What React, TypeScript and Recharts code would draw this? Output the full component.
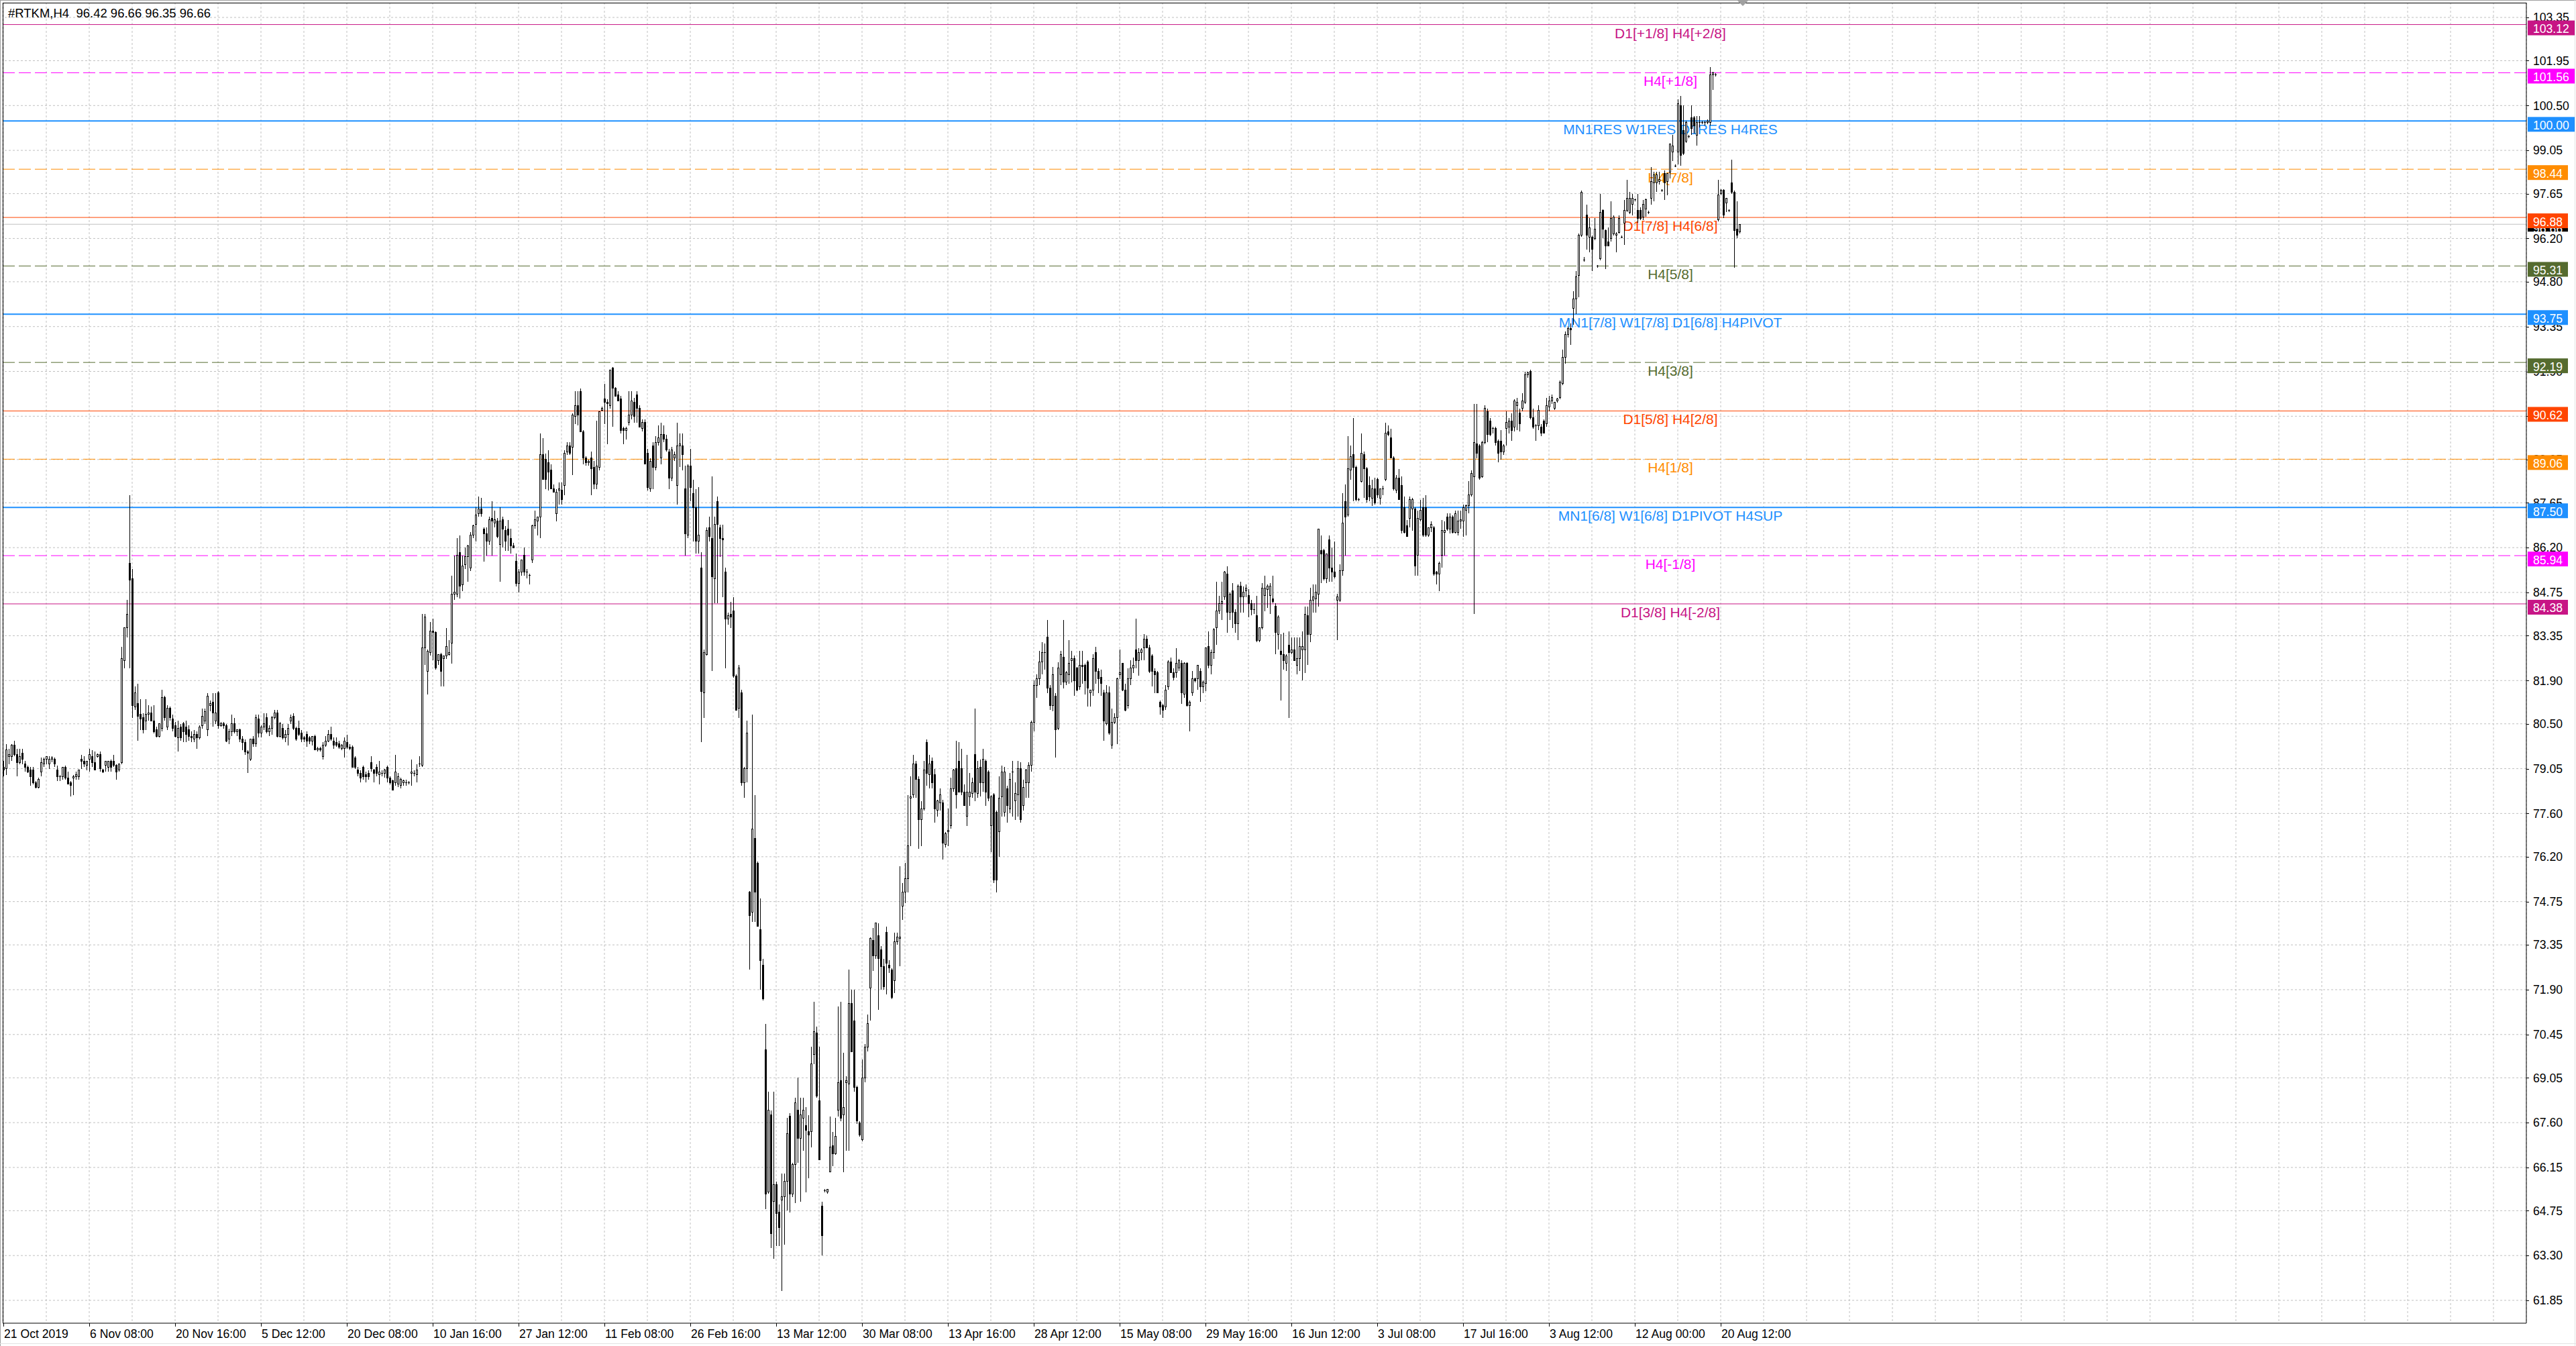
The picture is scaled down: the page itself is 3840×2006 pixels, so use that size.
import React from 'react';
import { ComposedChart, Bar, XAxis, YAxis, CartesianGrid, ReferenceLine, ReferenceDot } from 'recharts';

// ---------------- data ----------------
const SYMBOL_TITLE = '#RTKM,H4  96.42 96.66 96.35 96.66';
const CURRENT_PRICE = 96.66;

// time-axis labels, one every 32 H4 bars starting at bar 0
const TIME_LABELS = ['21 Oct 2019', '6 Nov 08:00', '20 Nov 16:00', '5 Dec 12:00', '20 Dec 08:00', '10 Jan 16:00', '27 Jan 12:00', '11 Feb 08:00', '26 Feb 16:00', '13 Mar 12:00', '30 Mar 08:00', '13 Apr 16:00', '28 Apr 12:00', '15 May 08:00', '29 May 16:00', '16 Jun 12:00', '3 Jul 08:00', '17 Jul 16:00', '3 Aug 12:00', '12 Aug 00:00', '20 Aug 12:00'];
const BARS_PER_LABEL = 32;
const BARS_PER_GRID = 16;

const PRICE_TICKS = [103.35, 101.95, 100.5, 99.05, 97.65, 96.2, 94.8, 93.35, 91.9, 90.45, 89.05, 87.65, 86.2, 84.75, 83.35, 81.9, 80.5, 79.05, 77.6, 76.2, 74.75, 73.35, 71.9, 70.45, 69.05, 67.6, 66.15, 64.75, 63.3, 61.85];

const LEVEL_PRICES = [103.12, 101.56, 100.0, 98.44, 96.88, 95.31, 93.75, 92.19, 90.62, 89.06, 87.5, 85.94, 84.38];
const LEVEL_NAMES = ['D1[+1/8] H4[+2/8]', 'H4[+1/8]', 'MN1RES W1RES D1RES H4RES', 'H4[7/8]', 'D1[7/8] H4[6/8]', 'H4[5/8]', 'MN1[7/8] W1[7/8] D1[6/8] H4PIVOT', 'H4[3/8]', 'D1[5/8] H4[2/8]', 'H4[1/8]', 'MN1[6/8] W1[6/8] D1PIVOT H4SUP', 'H4[-1/8]', 'D1[3/8] H4[-2/8]'];
const LEVEL_TEXT_BAR = 621.25;

// OHLC per H4 bar: [open, high, low, close]
const barsFrom21Oct = [
  [79.1,79.3,78.8,79.0],[79.05,79.85,78.85,79.65],[79.45,79.7,79.2,79.5],[79.45,79.85,79.3,79.8],[79.8,79.95,79.45,79.5],[79.5,79.7,78.8,79.25],[79.25,79.7,79.2,79.45],[79.55,79.7,79.2,79.35],
  [79.2,79.3,78.95,79.1],[79.1,79.15,78.9,78.95],[79.0,79.1,78.5,78.8],[79.0,79.1,78.55,78.6],[78.6,78.65,78.4,78.45],[78.45,78.75,78.4,78.7],[78.95,79.4,78.8,79.25],[79.2,79.4,79.1,79.35],
  [79.35,79.45,79.2,79.45],[79.2,79.45,79.05,79.35],[79.35,79.45,79.25,79.4],[79.35,79.4,79.1,79.2],[79.0,79.15,78.65,78.8],[78.8,78.85,78.65,78.8],[78.8,79.1,78.7,79.1],[79.1,79.15,78.7,78.75],
  [78.75,78.95,78.55,78.55],[78.6,78.65,78.15,78.5],[78.75,78.85,78.2,78.8],[78.8,78.95,78.7,78.85],[78.8,79.0,78.7,79.0],[79.35,79.5,79.05,79.3],[79.3,79.45,79.1,79.2],[79.15,79.3,79.0,79.3],
  [79.35,79.7,78.95,79.5],[79.45,79.65,79.1,79.25],[79.25,79.6,79.0,79.0],[79.45,79.55,79.4,79.5],[79.5,79.6,78.95,79.05],[79.0,79.05,78.9,78.95],[79.15,79.3,78.95,79.3],[79.1,79.3,78.95,79.3],
  [79.3,79.35,78.95,79.1],[79.3,79.5,79.1,79.15],[79.15,79.2,78.7,78.95],[79.0,79.2,78.95,79.2],[79.25,83.0,79.2,82.6],[82.55,83.6,82.3,83.6],[83.6,84.5,83.3,84.05],[85.7,87.9,82.3,85.15],
  [85.2,85.5,80.7,81.1],[81.05,81.7,80.95,81.5],[81.15,81.8,79.95,80.75],[80.8,81.3,80.3,80.65],[80.7,80.85,80.2,80.3],[80.6,81.3,80.3,80.8],[80.8,81.1,80.6,80.85],[80.85,81.05,80.6,80.6],
  [80.6,81.1,80.2,80.25],[80.3,80.4,80.05,80.1],[80.1,80.5,80.05,80.5],[80.35,81.6,80.25,81.35],[81.35,81.4,80.6,80.7],[80.4,81.1,80.3,81.0],[81.0,81.05,80.6,80.7],[80.65,80.8,80.25,80.35],
];
const barsFrom20Nov = [
  [80.45,80.55,80.05,80.1],[80.05,80.6,79.6,80.35],[80.4,80.5,79.95,80.05],[80.5,80.55,79.9,80.25],[80.4,80.6,79.9,80.15],[80.3,80.45,79.95,80.1],[80.1,80.25,79.9,80.05],[80.0,80.3,79.9,80.15],
  [80.15,80.25,79.7,80.05],[80.05,80.45,80.0,80.4],[80.45,81.0,80.35,80.75],[80.6,81.0,80.5,80.9],[80.3,81.5,80.1,81.4],[81.1,81.25,80.9,81.15],[81.2,81.5,80.4,80.85],[80.6,81.5,80.5,80.85],
  [81.5,81.55,80.35,80.45],[80.45,80.55,80.4,80.5],[80.5,80.55,80.35,80.45],[80.45,80.5,79.9,79.95],[80.0,80.35,79.85,80.25],[80.25,80.8,80.1,80.5],[80.5,80.7,80.2,80.25],[80.25,80.3,80.1,80.3],
  [80.3,80.35,79.9,80.0],[80.0,80.1,79.65,79.9],[79.9,80.0,79.5,79.6],[79.6,79.65,78.9,79.55],[79.35,80.0,79.3,80.0],[80.0,80.1,79.75,79.85],[79.85,80.8,79.75,80.7],[80.65,80.8,80.05,80.2],
  [80.2,80.45,80.05,80.4],[80.4,80.85,80.3,80.5],[80.7,80.85,80.2,80.25],[80.25,80.45,80.1,80.35],[80.35,80.75,80.15,80.7],[80.7,80.95,80.65,80.85],[80.85,80.95,80.05,80.1],[80.1,80.55,80.05,80.5],
  [80.35,80.5,80.0,80.05],[80.05,80.3,79.9,80.15],[80.15,80.5,79.8,80.35],[80.6,80.8,80.5,80.7],[80.75,80.85,80.3,80.35],[80.35,80.4,79.95,80.0],[80.35,80.6,80.1,80.15],[80.2,80.3,79.9,80.0],
  [80.05,80.1,79.9,80.0],[80.15,80.25,79.75,79.95],[80.05,80.1,79.85,79.95],[79.95,80.1,79.8,80.1],[80.1,80.15,79.65,79.65],[79.65,79.75,79.6,79.7],[79.7,79.75,79.6,79.65],[79.45,79.9,79.35,79.8],
  [79.8,80.1,79.75,79.95],[79.95,80.3,79.9,80.15],[80.15,80.4,79.95,80.0],[79.95,80.05,79.7,79.8],[79.9,80.05,79.75,79.8],[79.85,79.95,79.7,79.75],[79.7,79.85,79.65,79.8],[79.7,80.05,79.4,79.95],
];
const barsFrom20Dec = [
  [79.9,80.15,79.7,79.75],[79.75,79.85,79.65,79.7],[79.75,79.8,79.1,79.1],[79.4,79.45,79.05,79.1],[79.0,79.1,78.8,78.9],[78.9,79.0,78.6,78.75],[79.1,79.15,78.7,78.8],[78.85,78.95,78.6,78.8],
  [78.9,79.0,78.7,78.8],[79.25,79.45,78.95,79.05],[79.0,79.05,78.6,78.9],[79.1,79.2,78.8,78.9],[78.85,79.3,78.55,78.95],[78.9,79.0,78.8,78.9],[78.9,79.05,78.75,79.0],[79.1,79.15,78.6,78.75],
  [78.75,78.8,78.55,78.6],[78.65,78.7,78.35,78.35],[78.6,79.5,78.5,78.95],[78.55,78.9,78.45,78.8],[78.5,78.75,78.4,78.7],[78.6,78.7,78.5,78.65],[78.6,78.7,78.5,78.6],[78.6,78.65,78.55,78.6],
  [78.9,79.35,78.5,78.95],[78.9,79.0,78.8,78.9],[78.85,79.2,78.6,79.0],[79.2,79.45,79.1,79.2],[79.15,84.05,79.1,82.95],[82.95,84.05,82.4,83.95],[82.2,82.9,81.45,82.85],[82.8,83.8,82.7,83.5],
  [83.5,83.9,82.55,83.45],[83.45,83.5,82.25,82.3],[82.55,82.75,82.4,82.75],[82.75,82.8,81.7,82.2],[82.6,82.7,81.7,82.7],[82.7,83.6,82.6,83.0],[82.75,83.2,82.7,82.8],[83.1,85.3,82.45,84.7],
  [84.7,85.95,84.5,84.75],[84.7,86.5,84.6,85.95],[86.05,86.6,84.55,84.95],[85.0,85.95,84.8,85.6],[85.65,86.2,85.5,85.9],[85.9,86.3,85.1,86.25],[85.55,86.7,85.45,86.6],[86.6,86.95,86.5,86.9],
  [86.95,87.5,86.4,87.25],[87.3,87.85,87.2,87.45],[87.45,87.8,87.2,87.3],[86.8,86.85,85.75,86.65],[86.65,86.85,85.95,86.4],[86.4,87.2,86.3,87.1],[87.15,87.7,85.95,87.05],[87.0,87.4,86.85,87.1],
  [87.05,87.15,86.5,86.55],[86.3,87.5,85.1,87.05],[87.1,87.2,86.2,86.8],[86.75,86.9,86.1,86.4],[86.8,87.1,86.1,86.6],[86.5,86.8,86.0,86.25],[86.25,86.35,86.2,86.2],[85.75,86.0,84.95,85.05],
];
const barsFrom27Jan = [
  [85.05,85.5,84.75,85.4],[85.4,85.8,85.3,85.8],[85.95,86.2,85.3,85.4],[85.4,85.5,85.2,85.4],[85.3,85.35,85.0,85.3],[85.8,86.95,85.7,86.9],[86.9,87.4,86.8,87.1],[87.05,87.2,86.6,87.2],
  [87.2,89.9,86.5,89.2],[89.2,89.75,88.4,88.4],[89.05,89.25,88.1,88.4],[88.95,89.35,88.05,88.65],[88.7,88.9,88.1,88.1],[88.1,88.25,88.0,88.0],[87.3,88.1,87.05,88.0],[88.05,88.3,87.6,88.1],
  [88.05,88.3,87.6,87.75],[88.2,89.35,87.9,89.25],[89.3,89.6,89.2,89.5],[89.5,89.6,89.2,89.25],[89.45,90.55,88.55,90.5],[90.45,91.25,90.2,90.8],[90.8,91.25,90.15,90.5],[91.25,91.35,89.95,89.95],
  [89.95,90.0,88.9,89.1],[89.1,89.15,88.85,88.95],[88.95,89.05,88.85,89.0],[89.1,89.3,87.9,88.75],[88.8,89.0,88.1,88.25],[88.25,90.3,88.1,88.85],[88.8,90.6,88.7,90.6],[90.65,90.75,90.6,90.7],
  [91.0,91.5,90.2,90.9],[90.9,91.0,89.55,90.85],[90.8,91.95,90.7,91.95],[92.0,92.05,90.1,91.35],[91.35,91.4,91.1,91.1],[91.15,91.25,90.95,90.95],[91.0,91.1,89.9,90.0],[90.05,90.1,89.55,90.0],
  [90.0,90.1,89.7,90.05],[90.25,91.25,90.15,90.5],[90.5,91.25,90.35,90.95],[90.9,91.05,90.25,90.45],[91.15,91.25,90.25,90.7],[90.7,90.8,90.1,90.1],[90.05,90.35,89.95,90.25],[90.25,90.35,88.9,88.9],
  [89.25,89.4,88.05,88.15],[88.1,89.1,88.0,89.0],[89.5,89.6,88.1,88.8],[88.8,89.8,88.7,89.6],[89.6,90.15,89.5,89.75],[89.1,90.25,88.9,89.85],[89.85,90.15,89.6,89.7],[89.7,89.85,89.3,89.35],
  [89.3,89.4,88.1,88.45],[88.45,89.45,88.35,89.35],[89.1,89.3,89.0,89.2],[88.2,90.25,87.6,89.5],[89.5,89.9,88.8,89.55],[89.5,89.9,88.7,89.2],[88.1,88.85,85.95,86.65],[86.6,88.9,86.5,88.85],
];
const barsFrom26Feb = [
  [88.85,89.4,87.7,88.15],[87.95,88.4,86.4,87.5],[87.5,88.1,86.0,86.4],[86.4,88.15,86.0,86.6],[85.55,86.05,79.9,81.55],[81.5,82.9,80.7,82.8],[82.75,86.85,82.7,86.75],[86.85,87.2,86.4,86.55],
  [86.5,88.5,82.2,85.25],[85.2,87.2,84.4,86.95],[87.7,87.85,84.4,86.95],[86.85,86.95,85.9,86.5],[86.5,86.95,84.6,86.45],[85.4,85.55,82.3,83.9],[83.9,84.1,83.7,84.0],[84.05,84.45,83.6,83.95],
  [84.15,84.6,82.0,82.05],[82.05,82.1,80.95,80.95],[81.0,82.4,80.7,82.3],[81.5,81.6,78.5,78.6],[78.6,79.1,78.1,79.05],[79.05,80.6,78.6,80.2],[75.05,75.1,72.55,74.3],[74.4,80.8,74.1,77.1],
  [76.8,78.2,74.1,75.05],[76.0,76.05,73.95,73.95],[73.85,74.85,71.9,72.85],[72.7,72.9,71.55,71.6],[69.95,70.8,64.8,65.3],[65.35,68.6,65.3,68.0],[67.85,68.0,63.55,64.0],[65.05,68.6,63.2,65.6],
  [65.6,65.7,63.6,64.65],[64.7,64.95,63.6,64.2],[65.1,65.95,62.15,65.2],[65.2,65.95,63.65,65.7],[65.7,67.75,64.75,67.25],[67.8,67.9,64.7,65.3],[65.3,66.3,65.2,66.25],[66.25,68.4,65.0,68.25],
  [68.0,69.05,66.3,67.1],[67.1,68.4,65.05,67.85],[67.75,68.4,66.7,68.0],[67.5,68.1,65.35,67.35],[67.3,67.85,65.8,67.2],[67.3,70.05,66.8,69.5],[69.8,71.5,69.5,70.55],[70.5,70.7,68.4,68.45],
  [68.3,70.05,66.4,66.4],[64.9,65.05,63.3,63.95],[65.4,65.45,65.35,65.4],[65.35,65.45,65.3,65.45],[66.0,67.8,66.0,66.8],[66.85,67.3,66.2,66.6],[66.6,67.75,66.55,67.15],[68.0,71.35,67.8,68.9],
  [68.95,71.5,67.65,67.75],[67.85,69.85,66.0,68.1],[68.9,69.1,66.7,68.95],[68.85,72.55,66.7,71.45],[71.45,71.9,69.9,69.9],[70.9,71.9,68.6,68.75],[68.75,68.8,67.55,67.65],[67.6,67.65,67.15,67.2],
];
const barsFrom30Mar = [
  [67.05,69.65,67.0,69.05],[69.05,70.15,68.9,70.05],[70.05,71.1,69.9,70.8],[71.95,73.6,70.9,73.55],[73.5,73.9,72.5,73.0],[73.0,74.05,72.9,74.05],[73.65,74.05,71.25,72.9],[73.2,73.3,71.9,72.65],
  [72.65,72.9,71.9,72.0],[73.75,73.95,71.75,72.75],[72.7,72.85,72.45,72.6],[72.55,72.6,71.6,71.65],[72.2,73.75,71.8,73.45],[73.45,73.75,73.35,73.6],[73.55,75.9,72.65,73.6],[74.6,75.35,74.15,75.05],
  [75.05,76.0,74.7,75.5],[75.5,78.2,75.05,76.55],[78.1,78.8,76.55,78.15],[78.2,79.5,78.1,79.2],[79.2,79.3,78.1,78.7],[78.7,78.8,76.45,77.4],[77.4,78.0,76.55,77.75],[77.75,79.3,77.7,79.0],
  [79.9,80.0,78.5,78.9],[78.85,79.5,78.4,79.2],[79.3,79.4,78.4,78.6],[78.85,79.05,77.3,77.75],[77.7,78.05,77.5,78.0],[77.95,78.4,77.7,78.2],[77.95,78.05,76.1,76.65],[76.6,77.0,76.5,76.95],
  [77.0,77.75,76.55,77.05],[77.2,78.75,77.1,78.4],[78.4,79.05,78.3,79.0],[79.05,79.95,77.75,78.2],[79.3,79.9,78.3,78.3],[79.05,79.7,78.2,78.3],[78.3,78.55,77.85,77.85],[77.5,79.5,77.2,78.3],
  [78.15,78.9,77.85,78.3],[78.25,78.75,78.1,78.6],[79.5,81.0,78.0,78.3],[78.25,79.3,78.1,79.05],[79.1,79.35,78.15,78.6],[78.6,79.7,78.3,79.35],[79.3,79.35,77.85,78.3],[78.95,79.0,78.0,78.1],
  [77.2,78.2,76.35,78.15],[78.2,78.25,75.35,75.45],[77.65,77.7,75.05,75.45],[77.0,78.8,76.2,78.1],[78.15,79.15,77.5,78.95],[77.65,79.1,77.5,78.95],[78.4,78.5,77.3,77.85],[77.75,78.9,77.6,78.7],
  [78.95,79.3,77.5,78.95],[78.0,78.6,77.4,78.25],[78.2,79.3,77.5,79.05],[79.05,79.25,77.3,77.4],[77.85,78.7,77.7,78.45],[78.6,79.05,78.1,79.0],[78.6,79.25,78.1,79.15],[79.15,80.6,78.95,80.55],
];
const barsFrom28Apr = [
  [80.55,81.9,80.25,81.75],[81.75,82.1,81.35,81.95],[81.95,82.85,81.75,82.5],[82.5,83.15,82.1,82.8],[82.8,83.1,82.25,82.8],[83.3,83.85,81.5,81.65],[81.65,81.75,80.95,81.1],[81.1,82.35,80.9,82.1],
  [81.4,81.5,79.4,80.3],[80.35,82.5,80.3,82.3],[82.1,82.85,81.75,82.75],[82.65,83.85,81.65,81.85],[81.85,82.2,81.75,82.15],[82.1,83.2,81.8,82.45],[82.55,82.85,81.85,82.6],[82.6,82.7,81.4,81.9],
  [82.3,82.35,81.55,81.6],[81.7,82.85,81.6,82.4],[82.4,82.85,81.8,82.35],[82.4,82.45,81.45,81.9],[82.5,82.55,81.05,81.65],[81.5,81.6,81.05,81.6],[81.6,82.75,81.4,82.6],[82.8,83.0,81.8,82.2],
  [82.2,82.3,81.5,81.95],[82.0,82.25,81.4,81.8],[81.5,81.6,79.95,80.6],[80.5,81.75,80.45,81.5],[81.5,81.7,80.15,80.2],[79.8,81.0,79.7,80.55],[80.55,80.85,80.5,80.7],[80.7,82.0,79.85,81.95],
  [82.1,82.9,81.95,82.15],[82.45,82.45,81.55,81.6],[81.6,81.8,80.9,80.95],[81.1,82.3,81.0,81.95],[81.95,82.55,81.75,82.3],[82.3,82.65,82.15,82.4],[82.9,83.9,82.3,82.55],[82.55,82.95,82.05,82.8],
  [82.8,82.95,82.55,82.9],[82.95,83.4,82.55,83.25],[83.25,83.35,82.95,82.95],[82.95,83.05,82.15,82.2],[82.7,82.75,81.7,82.2],[82.2,82.3,81.5,82.1],[82.15,82.2,81.5,81.5],[81.2,81.25,80.8,81.05],
  [81.1,81.15,80.7,80.95],[81.05,81.75,80.95,81.6],[81.7,82.55,81.6,82.5],[82.5,82.65,82.15,82.15],[82.15,82.3,81.9,82.0],[82.15,82.95,82.0,82.45],[82.3,82.6,82.2,82.55],[82.45,82.55,81.15,81.5],
  [81.45,82.5,81.35,82.45],[82.45,82.5,81.05,81.1],[81.1,81.25,80.25,81.2],[81.5,82.2,81.4,81.95],[81.95,82.0,81.85,81.9],[81.95,82.4,81.6,82.4],[82.2,82.3,81.2,81.7],[81.7,81.9,81.5,81.85],
];
const barsFrom29May = [
  [81.8,82.95,81.55,82.95],[83.0,83.5,82.3,82.4],[82.4,82.9,82.1,82.8],[82.8,83.6,82.6,83.55],[83.6,85.1,83.05,84.15],[84.15,84.65,84.05,84.4],[84.4,85.1,83.85,84.45],[84.6,85.45,84.5,85.4],
  [85.35,85.6,83.45,84.1],[84.1,84.75,83.85,84.7],[84.8,85.05,83.6,84.1],[84.1,84.2,83.45,83.75],[83.75,85.0,83.2,84.95],[84.95,85.1,84.1,84.6],[84.6,84.95,84.1,84.75],[84.8,85.0,84.6,84.9],
  [84.65,84.85,83.95,84.4],[84.4,84.5,84.0,84.2],[84.2,84.4,84.05,84.2],[84.0,84.65,83.15,83.2],[83.2,83.6,83.15,83.6],[83.6,85.05,83.55,84.9],[84.65,85.3,84.15,84.9],[84.85,85.0,84.25,84.95],
  [84.65,85.05,84.05,84.95],[84.55,85.3,84.4,84.45],[84.3,84.4,82.75,83.45],[83.4,84.0,82.9,83.95],[82.85,83.4,81.25,82.75],[82.75,83.45,82.25,82.55],[82.45,82.75,82.2,82.7],[83.05,83.5,80.7,82.8],
  [82.8,83.3,82.75,82.9],[82.9,83.3,82.55,82.55],[82.4,83.3,82.1,82.6],[82.6,83.3,82.2,83.0],[82.9,83.5,81.9,83.0],[82.9,84.3,82.15,84.05],[84.0,84.3,82.4,83.4],[83.4,84.9,83.15,84.5],
  [84.5,85.0,84.1,84.6],[84.55,85.0,84.1,84.75],[84.7,86.8,84.3,86.8],[86.1,86.6,85.05,86.0],[86.1,86.15,85.15,85.2],[85.2,86.0,85.05,86.0],[86.45,86.6,85.1,85.55],[85.55,86.2,85.1,85.4],
  [85.4,86.4,85.2,85.25],[84.5,84.7,83.2,84.6],[84.5,85.65,84.45,85.45],[85.45,87.95,85.3,87.0],[87.7,88.25,85.95,87.2],[87.25,89.8,87.2,88.75],[88.7,89.5,88.4,89.15],[89.2,90.4,87.7,88.8],
  [88.8,88.85,87.7,87.75],[87.75,87.8,87.7,87.75],[88.35,89.9,88.3,89.25],[89.2,89.3,87.8,88.75],[88.75,88.8,87.65,87.75],[88.2,88.5,87.7,87.85],[87.8,88.4,87.55,88.1],[88.1,88.45,87.6,87.65],
];
const barsFrom3Jul = [
  [88.4,88.45,87.8,87.9],[87.8,88.1,87.6,88.1],[88.1,88.2,87.9,88.1],[88.4,90.25,88.35,89.9],[89.95,90.15,89.8,89.85],[89.75,90.05,89.1,89.1],[89.1,89.15,88.05,88.1],[88.05,88.55,87.95,88.45],
  [88.45,88.75,87.75,87.75],[88.2,88.5,86.65,86.75],[87.5,87.85,86.65,86.7],[86.9,87.1,86.55,86.55],[87.15,87.85,86.85,87.75],[87.45,87.8,86.75,87.75],[87.45,87.5,85.3,85.6],[85.95,87.4,85.3,87.15],
  [87.1,87.75,87.05,87.4],[87.5,87.8,86.55,86.6],[87.5,87.9,86.55,86.6],[86.6,86.85,86.55,86.85],[86.85,87.05,86.7,86.95],[86.85,86.9,85.3,85.35],[85.4,85.45,85.0,85.35],[85.35,85.75,84.8,85.7],
  [85.95,87.1,85.55,86.75],[86.7,87.05,85.95,86.75],[87.2,87.3,86.75,86.8],[86.8,87.3,86.65,87.2],[87.2,87.25,86.65,86.7],[86.7,87.4,86.65,87.3],[86.7,87.4,86.6,87.05],[87.05,87.4,86.8,87.1],
  [87.05,87.6,86.55,87.5],[87.4,87.6,86.6,87.55],[87.55,88.35,87.3,87.9],[87.9,88.7,87.85,88.6],[88.5,90.85,84.05,89.6],[89.55,90.85,89.1,89.25],[89.5,89.55,88.4,88.45],[88.5,89.65,88.45,89.6],
  [89.6,90.8,89.55,90.7],[90.6,90.7,89.6,89.85],[90.3,90.4,89.8,89.85],[90.05,90.1,89.9,90.05],[90.05,90.1,89.5,89.6],[89.65,89.7,88.95,89.25],[89.65,90.0,89.05,89.3],[89.3,89.55,89.2,89.5],
  [90.05,90.6,89.5,90.25],[90.1,90.4,89.9,90.3],[90.3,90.55,89.65,90.0],[90.1,91.0,89.95,90.95],[90.8,91.05,90.0,90.9],[90.55,90.7,89.95,90.2],[90.7,91.2,90.6,90.95],[90.9,91.9,90.85,91.8],
  [91.8,91.9,91.7,91.85],[91.9,91.95,90.35,90.4],[90.4,90.7,90.05,90.1],[90.15,90.2,89.65,90.15],[90.15,90.8,90.0,90.65],[90.1,90.2,89.8,89.9],[90.3,90.35,89.9,89.9],[90.2,91.05,90.1,90.8],
];
const barsFrom3Aug = [
  [90.75,91.1,90.6,90.95],[90.95,91.15,90.85,91.05],[90.7,90.9,90.65,90.9],[90.95,91.05,90.9,91.0],[91.05,91.6,91.0,91.55],[91.5,92.6,91.45,92.35],[92.35,93.2,92.15,93.1],[93.1,93.35,93.0,93.3],
  [93.3,93.45,92.75,93.25],[93.95,94.5,93.4,94.25],[94.25,95.15,93.75,94.95],[95.0,96.35,94.3,96.3],[96.3,97.75,96.25,97.7],[95.5,95.6,95.45,95.5],[96.95,97.3,95.85,96.3],[96.25,96.85,95.75,96.55],
  [96.25,96.3,95.15,95.85],[96.2,96.85,96.15,96.5],[95.3,95.35,95.25,95.3],[95.55,97.65,95.5,97.05],[97.1,97.15,96.2,96.5],[96.45,96.5,95.2,95.95],[96.1,96.55,95.95,95.95],[96.2,97.4,96.1,96.85],
  [96.35,96.95,96.3,96.9],[96.3,96.4,95.75,96.35],[96.4,96.95,96.35,96.85],[96.25,96.3,96.2,96.25],[96.7,97.45,96.0,97.1],[97.1,98.1,97.05,97.5],[97.05,97.7,97.0,97.5],[97.3,97.65,96.95,97.5],
  [97.45,97.5,97.4,97.45],[97.1,97.65,96.7,96.85],[97.1,97.2,96.8,96.85],[96.9,97.45,96.8,97.3],[97.15,97.5,96.9,97.45],[97.05,97.1,97.0,97.05],[97.5,98.5,97.3,98.05],[98.0,98.35,97.4,98.25],
  [98.0,98.35,97.7,98.25],[98.05,98.35,97.95,98.1],[97.75,97.8,97.7,97.75],[98.3,98.4,97.45,98.0],[98.05,98.3,97.6,98.3],[98.35,99.25,98.15,99.25],[99.0,99.55,98.7,99.2],[98.55,98.6,98.5,98.55],
  [99.0,100.7,98.6,100.55],[100.5,100.8,98.55,98.9],[99.7,100.5,98.9,98.95],[99.35,100.0,99.3,99.95],[99.5,99.55,99.45,99.5],[100.1,100.5,99.55,99.75],[100.1,100.15,99.6,99.85],[99.55,100.15,99.2,99.95],
  [99.95,100.15,99.8,99.95],[99.95,100.0,99.9,99.95],[99.95,100.0,99.85,99.95],[99.95,100.05,99.9,100.0],[99.95,101.75,99.85,101.5],[101.5,101.6,101.0,101.55],[101.5,101.55,101.45,101.5],[96.8,98.1,96.75,97.6],
];
const barsFrom20Aug = [
  [97.65,97.8,97.6,97.75],[97.75,97.8,96.85,96.95],[97.35,97.5,97.05,97.5],[97.1,97.15,97.05,97.1],[98.0,98.75,97.65,97.7],[97.7,97.75,95.25,96.45],[96.5,97.4,96.2,96.3],[96.42,96.66,96.35,96.66],
];

// ---------------- layout & style ----------------
const W = 3840;
const H = 2006;
const M_TOP = 4;
const M_LEFT = 4;
const X_AXIS_H = 34;
const Y_AXIS_W = 74;
const PLOT_RIGHT = W - Y_AXIS_W;
const PLOT_BOTTOM = H - X_AXIS_H;
const X_MIN = -0.25;
const X_MAX = 940.25;
const Y_MIN = 61.112;
const Y_MAX = 103.827;
const FONT = "'Liberation Sans', Arial, Helvetica, sans-serif";
const AXIS_FS = 17.6;
const DASH = '18 6';

const C_VIOLET = '#C71585';
const C_MAGENTA = '#FF00FF';
const C_BLUE = '#1E90FF';
const C_ORANGE = '#FF8C00';
const C_RED = '#FF4500';
const C_OLIVE = '#556B2F';
const LEVEL_STYLES = [
  { color: C_VIOLET, dash: undefined, w: 1 },
  { color: C_MAGENTA, dash: DASH, w: 1 },
  { color: C_BLUE, dash: undefined, w: 2 },
  { color: C_ORANGE, dash: DASH, w: 1 },
  { color: C_RED, dash: undefined, w: 1 },
  { color: C_OLIVE, dash: DASH, w: 1 },
  { color: C_BLUE, dash: undefined, w: 2 },
  { color: C_OLIVE, dash: DASH, w: 1 },
  { color: C_RED, dash: undefined, w: 1 },
  { color: C_ORANGE, dash: DASH, w: 1 },
  { color: C_BLUE, dash: undefined, w: 2 },
  { color: C_MAGENTA, dash: DASH, w: 1 },
  { color: C_VIOLET, dash: undefined, w: 1 },
];

const ALL_BARS = [
  ...barsFrom21Oct, ...barsFrom20Nov, ...barsFrom20Dec, ...barsFrom27Jan, ...barsFrom26Feb, ...barsFrom30Mar,
  ...barsFrom28Apr, ...barsFrom29May, ...barsFrom3Jul, ...barsFrom3Aug, ...barsFrom20Aug,
];
const chartData = ALL_BARS.map(([o, h, l, c], i) => ({
  i, o, c, h: Math.max(h, o, c), l: Math.min(l, o, c),
}));

const X_TICKS: number[] = [];
for (let b = 0; b <= X_MAX; b += BARS_PER_GRID) X_TICKS.push(b);
const LABEL_BY_BAR: Record<number, string> = {};
TIME_LABELS.forEach((t, k) => { LABEL_BY_BAR[k * BARS_PER_LABEL] = t; });

// tag ticks drawn on price axis after the normal ticks (so they cover them)
const TAG_VALUES = [CURRENT_PRICE, ...LEVEL_PRICES];
const TAG_COLORS = ['#000000', ...LEVEL_STYLES.map((s) => s.color)];
const Y_TICKS = [...PRICE_TICKS, ...TAG_VALUES];

// ---------------- renderers ----------------
const Candle = (props: any) => {
  const { x, y, width, height, payload } = props;
  if (x == null || y == null || !payload) return <g />;
  const top = Math.min(y, y + height);
  const hgt = Math.abs(height);
  const { o, h, l, c } = payload;
  const span = h - l;
  const k = span > 0 ? hgt / span : 0;
  const yO = top + (h - o) * k;
  const yC = top + (h - c) * k;
  const bTop = Math.min(yO, yC);
  const bBot = Math.max(yO, yC);
  const px = Math.round(x + width / 2);
  const cx = px + 0.5;
  const bull = c >= o;
  return (
    <g>
      <line x1={cx} x2={cx} y1={top} y2={top + hgt} stroke="#000" strokeWidth={1} shapeRendering="crispEdges" />
      <rect x={cx - 1} y={bTop} width={2} height={Math.max(bBot - bTop, 0.01)} fill={bull ? '#fff' : '#000'} stroke="#000" strokeWidth={1} shapeRendering="crispEdges" />
    </g>
  );
};

const TimeTick = (props: any) => {
  const { x, y, payload } = props;
  const label = LABEL_BY_BAR[payload.value];
  if (!label) return <g />;
  const px = Math.round(x) + 0.5;
  return (
    <g>
      <line x1={px} x2={px} y1={y} y2={y + 5} stroke="#000" strokeWidth={1} />
      <text x={x + 1} y={y + 22} fontFamily={FONT} fontSize={AXIS_FS} fill="#000" textAnchor="start">{label}</text>
    </g>
  );
};

const PriceTick = (props: any) => {
  const { x, y, payload, index } = props;
  const v = payload.value;
  const tagIdx = TAG_VALUES.indexOf(v);
  const isTag = index >= PRICE_TICKS.length || (tagIdx >= 0 && PRICE_TICKS.indexOf(v) < 0);
  if (isTag) {
    const txt = v.toFixed(2);
    const color = TAG_COLORS[tagIdx];
    const bw = txt.length * 10 + 10;
    const bh = tagIdx === 0 ? 17 : 22;
    return (
      <g>
        <rect x={PLOT_RIGHT + 2} y={y - 6} width={bw} height={bh} fill={color} />
        <text x={PLOT_RIGHT + 10} y={y + 12.5} fontFamily={FONT} fontSize={AXIS_FS} fill="#fff" textAnchor="start">{txt}</text>
      </g>
    );
  }
  const py = Math.round(y) + 0.5;
  return (
    <g>
      <line x1={x} x2={x + 4} y1={py} y2={py} stroke="#000" strokeWidth={1} />
      <text x={x + 10} y={y + 6.3} fontFamily={FONT} fontSize={AXIS_FS} fill="#000" textAnchor="start">{v.toFixed(2)}</text>
    </g>
  );
};

const makeLevelText = (text: string, color: string) => (p: any) => (
  <text x={p.cx} y={p.cy + 20} fontFamily={FONT} fontSize={21} fill={color} textAnchor="middle">{text}</text>
);

export default function App() {
  return (
    <div style={{ position: 'absolute', left: 0, top: 0, width: W, height: H, background: '#fff', overflow: 'hidden' }}>
      <ComposedChart width={W} height={H} data={chartData} margin={{ top: M_TOP, right: 0, bottom: 0, left: M_LEFT }}>
        <CartesianGrid horizontal={false} vertical stroke="#c0c0c0" strokeDasharray="3 3" />
        {PRICE_TICKS.map((p) => (
          <ReferenceLine key={'g' + p} y={p} stroke="#c0c0c0" strokeDasharray="3 3" strokeWidth={1} zIndex={-60} />
        ))}
        <ReferenceLine y={CURRENT_PRICE} stroke="#c0c0c0" strokeWidth={1} zIndex={-55} />
        {LEVEL_PRICES.map((p, k) => (
          <ReferenceLine key={'l' + p} y={p} stroke={LEVEL_STYLES[k].color} strokeWidth={LEVEL_STYLES[k].w} strokeDasharray={LEVEL_STYLES[k].dash} zIndex={-50} />
        ))}
        {LEVEL_PRICES.map((p, k) => (
          <ReferenceDot key={'t' + p} x={LEVEL_TEXT_BAR} y={p} r={0} ifOverflow="visible" zIndex={-40} shape={makeLevelText(LEVEL_NAMES[k], LEVEL_STYLES[k].color)} />
        ))}
        <Bar dataKey={(d: any) => [d.l, d.h]} barSize={3} isAnimationActive={false} shape={<Candle />} />
        <XAxis
          dataKey="i"
          type="number"
          domain={[X_MIN, X_MAX]}
          allowDataOverflow
          ticks={X_TICKS}
          interval={0}
          tickSize={0}
          tickMargin={0}
          height={X_AXIS_H}
          axisLine={{ stroke: '#000', strokeWidth: 1 }}
          tickLine={false}
          tick={<TimeTick />}
        />
        <YAxis
          orientation="right"
          type="number"
          domain={[Y_MIN, Y_MAX]}
          allowDataOverflow
          ticks={Y_TICKS}
          interval={0}
          tickSize={0}
          tickMargin={0}
          width={Y_AXIS_W}
          axisLine={{ stroke: '#000', strokeWidth: 1 }}
          tickLine={false}
          tick={<PriceTick />}
        />
      </ComposedChart>
      <svg width={W} height={H} style={{ position: 'absolute', left: 0, top: 0, pointerEvents: 'none' }}>
        <line x1={0} x2={W} y1={0.5} y2={0.5} stroke="#a0a0a0" />
        <line x1={0.5} x2={0.5} y1={0} y2={H} stroke="#a0a0a0" />
        <line x1={0} x2={W} y1={H - 3.5} y2={H - 3.5} stroke="#e3e3e3" />
        <line x1={W - 1.5} x2={W - 1.5} y1={0} y2={H} stroke="#e3e3e3" />
        <line x1={M_LEFT} x2={PLOT_RIGHT} y1={M_TOP + 0.5} y2={M_TOP + 0.5} stroke="#000" />
        <line x1={M_LEFT + 0.5} x2={M_LEFT + 0.5} y1={M_TOP} y2={PLOT_BOTTOM} stroke="#000" />
        <polygon points="2590,1 2606,1 2598,9" fill="#a0a0a0" />
        <text x={12} y={26} fontFamily={FONT} fontSize={18.5} fill="#000" style={{ whiteSpace: 'pre' }}>{SYMBOL_TITLE}</text>
      </svg>
    </div>
  );
}
